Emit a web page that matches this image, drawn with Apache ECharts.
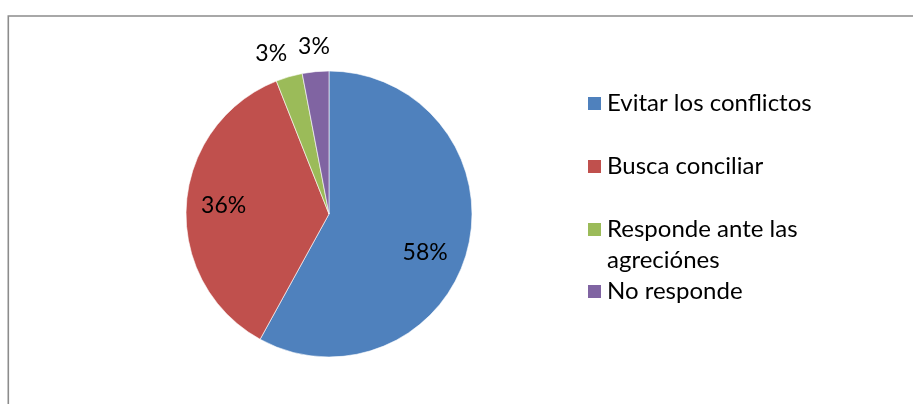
<!DOCTYPE html>
<html>
<head>
<meta charset="utf-8">
<script src="https://cdn.jsdelivr.net/npm/echarts@6/dist/echarts.min.js"></script>
<style>
  html, body { margin: 0; padding: 0; background: #fff; }
  #chart { width: 913px; height: 404px; }
</style>
</head>
<body>
<div id="chart"></div>
<script>
// Survey answers and their shares (percent)
const categories = ['Evitar los conflictos', 'Busca conciliar', 'Responde ante las agreciónes', 'No responde'];
const legendLabels = ['Evitar los conflictos', 'Busca conciliar', 'Responde ante las\nagreciónes', 'No responde'];
const values = [58, 36, 3, 3];
const colors = ['#4F81BD', '#C0504D', '#9BBB59', '#8064A2'];

// Nudges applied to each percentage label from its default inside spot
const labelShift = [[24, 20], [-31, -4], [-37, -89], [-8, -93]];
// Vertical centre of each legend marker (px)
const legendCentres = [103.5, 166.5, 229.5, 291.5];

const FONT = 'Lato';
const LINE = 31;
const chart = echarts.init(document.getElementById('chart'), null, { renderer: 'canvas' });

const legends = categories.map((name, i) => {
  const twoLines = legendLabels[i].includes('\n');
  // the text block is centred on the marker; a leading blank line keeps the first line level with it
  const text = twoLines ? '\n' + legendLabels[i] : legendLabels[i];
  const half = twoLines ? LINE * 1.5 : LINE / 2;
  return {
    data: [name],
    left: 586,
    top: legendCentres[i] - half,
    orient: 'vertical',
    padding: 0,
    itemWidth: 15,
    itemHeight: 15,
    itemGap: 0,
    icon: 'rect',
    selectedMode: false,
    formatter: () => text,
    textStyle: {
      fontFamily: FONT,
      fontSize: 24,
      color: '#000',
      lineHeight: LINE
    }
  };
});

chart.setOption({
  animation: false,
  color: colors,
  graphic: [{
    type: 'rect',
    shape: { x: 8.3, y: 16, width: 1000, height: 600 },
    style: { fill: 'none', stroke: '#8c8c8c', lineWidth: 1.6 },
    silent: true
  }],
  legend: legends,
  series: [{
    type: 'pie',
    center: [329, 214],
    radius: 143,
    startAngle: 90,
    clockwise: true,
    avoidLabelOverlap: false,
    itemStyle: { borderColor: '#ffffff', borderWidth: 0.6 },
    label: {
      show: true,
      position: 'inside',
      formatter: p => p.value + '%',
      fontFamily: FONT,
      fontSize: 23,
      color: '#000'
    },
    labelLine: { show: false },
    labelLayout: p => ({ dx: labelShift[p.dataIndex][0], dy: labelShift[p.dataIndex][1] }),
    data: categories.map((name, i) => ({ name, value: values[i] }))
  }]
});
</script>
</body>
</html>
